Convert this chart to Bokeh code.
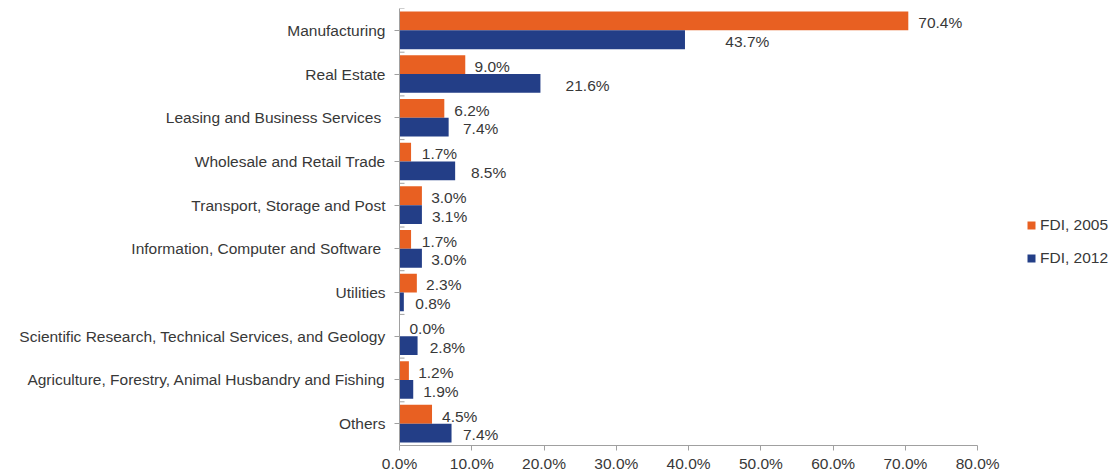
from bokeh.plotting import figure
from bokeh.models import (ColumnDataSource, FactorRange, Range1d, Legend, LegendItem,
                          FixedTicker, CustomJSTickFormatter)
from bokeh.transform import dodge
from bokeh.core.properties import value
from bokeh.embed import file_html
from bokeh.resources import INLINE

categories = [
    "Manufacturing",
    "Real Estate",
    "Leasing and  Business Services",
    "Wholesale and Retail Trade",
    "Transport, Storage and Post",
    "Information,  Computer and Software",
    "Utilities",
    "Scientific Research, Technical Services, and Geology",
    "Agriculture, Forestry, Animal Husbandry and Fishing",
    "Others",
]
# bar lengths as drawn in the picture (%)
fdi_2005 = [70.4, 9.1, 6.2, 1.6, 3.1, 1.6, 2.4, 0.0, 1.3, 4.5]
fdi_2012 = [39.5, 19.5, 6.8, 7.7, 3.1, 3.1, 0.6, 2.5, 1.9, 7.2]
# data labels as printed
label_2005 = [70.4, 9.0, 6.2, 1.7, 3.0, 1.7, 2.3, 0.0, 1.2, 4.5]
label_2012 = [43.7, 21.6, 7.4, 8.5, 3.1, 3.0, 0.8, 2.8, 1.9, 7.4]
x_ticks = [0, 10, 20, 30, 40, 50, 60, 70, 80]
series_names = ["FDI, 2005", "FDI, 2012"]

ORANGE = "#E86022"
BLUE = "#233E87"
TEXT = "#383838"
AXIS = "#A0A0A0"
FONT = "Liberation Sans"
FS = "15.5px"

src = ColumnDataSource(dict(
    cat=categories,
    v05=fdi_2005,
    v12=fdi_2012,
    l05=label_2005,
    l12=label_2012,
    t05=["%.1f%%" % v for v in label_2005],
    t12=["%.1f%%" % v for v in label_2012],
    zero=[0] * len(categories),
))

p = figure(
    width=1108, height=474,
    y_range=FactorRange(*categories[::-1], range_padding=0),
    x_range=Range1d(0, 98.1),
    output_backend="svg", toolbar_location=None,
    min_border_left=399, min_border_right=0, min_border_top=8, min_border_bottom=5,
)
p.outline_line_color = None
p.grid.grid_line_color = None

r05 = p.hbar(y=dodge("cat", 0.215, range=p.y_range), right="v05", left=0, height=0.43,
             source=src, fill_color=ORANGE, line_color=None)
r12 = p.hbar(y=dodge("cat", -0.215, range=p.y_range), right="v12", left=0, height=0.43,
             source=src, fill_color=BLUE, line_color=None)

# category boundary tick marks (inside the axis)
p.ray(x="zero", y=dodge("cat", 0.5, range=p.y_range), length=5, length_units="screen",
      angle=0, source=src, line_color=AXIS, line_width=1)

p.text(x="l05", y=dodge("cat", 0.175, range=p.y_range), text="t05", source=src,
       x_offset=10, text_baseline="middle", text_align="left",
       text_font=value(FONT), text_font_size=FS, text_color=TEXT)
p.text(x="l12", y=dodge("cat", -0.255, range=p.y_range), text="t12", source=src,
       x_offset=10, text_baseline="middle", text_align="left",
       text_font=value(FONT), text_font_size=FS, text_color=TEXT)

# axes
p.xaxis.ticker = FixedTicker(ticks=x_ticks)
p.xaxis.bounds = (x_ticks[0], x_ticks[-1])
p.xaxis.formatter = CustomJSTickFormatter(code="return tick.toFixed(1) + '%';")
for ax in (p.xaxis, p.yaxis):
    ax.axis_line_color = AXIS
    ax.major_tick_line_color = AXIS
    ax.minor_tick_line_color = None
    ax.major_tick_in = 0
    ax.major_tick_out = 5
    ax.major_label_text_font = FONT
    ax.major_label_text_font_size = FS
    ax.major_label_text_color = TEXT
p.xaxis.major_label_standoff = 4
p.yaxis.major_label_standoff = 9

legend = Legend(items=[LegendItem(label=series_names[0], renderers=[r05]),
                       LegendItem(label=series_names[1], renderers=[r12])],
                location=(627, 178), orientation="vertical")
legend.glyph_width = 10
legend.glyph_height = 10
legend.label_height = 18
legend.spacing = 15
legend.padding = 0
legend.margin = 0
legend.label_standoff = 4
legend.border_line_color = None
legend.background_fill_alpha = 0
legend.label_text_font = FONT
legend.label_text_font_size = FS
legend.label_text_color = TEXT
p.add_layout(legend, "center")

open("out.html", "w").write(file_html(p, INLINE))
